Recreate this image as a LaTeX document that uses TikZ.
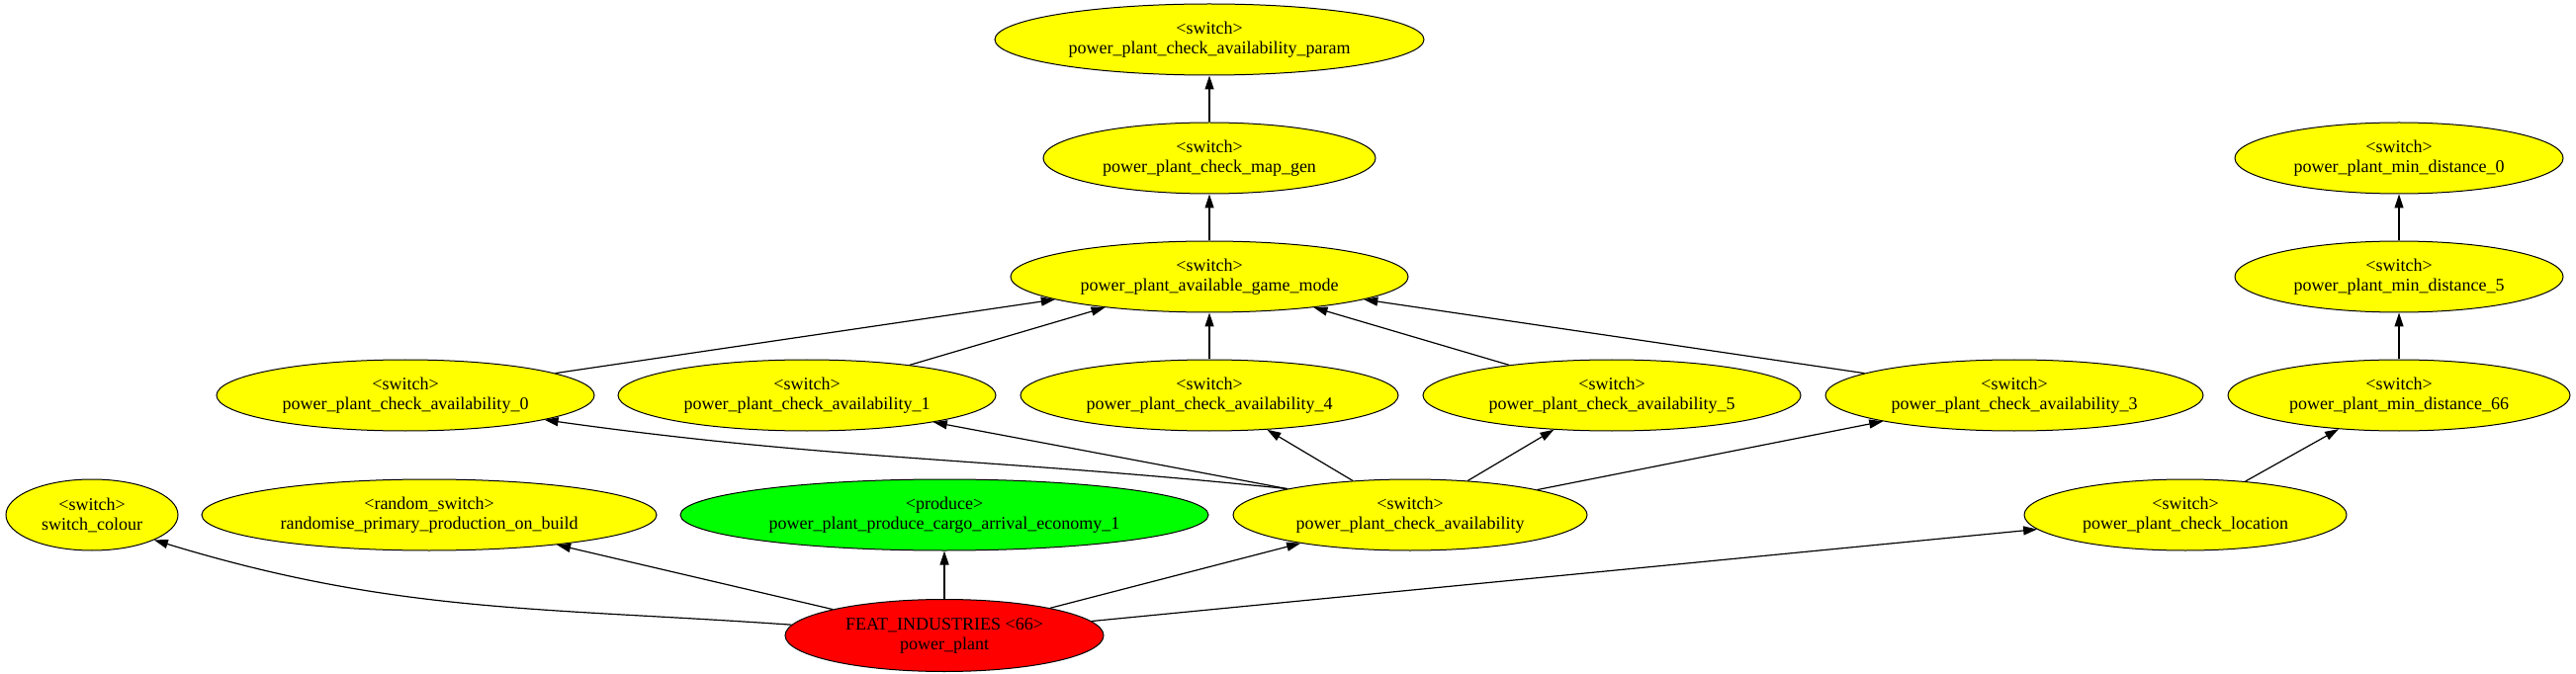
\documentclass[tikz,border=0pt]{standalone}
\usepackage{fontspec}
\setmainfont{Liberation Serif}
\usetikzlibrary{shapes.geometric,arrows.meta}
\definecolor{ny}{HTML}{FFFF00}
\definecolor{ng}{HTML}{00FF00}
\definecolor{nr}{HTML}{FF0000}
\tikzset{
  gnode/.style={ellipse, draw=black, line width=1pt, inner sep=0pt, minimum height=72pt,
    align=center, font=\fontsize{18}{20}\selectfont},
  sw/.style={gnode, fill=ny},
  edge/.style={line width=1.2pt, -{Triangle[length=14pt,width=9pt]}},
}
\begin{document}
\begin{tikzpicture}[x=1pt,y=1pt]
\useasboundingbox (0,0) rectangle (2605,681);
\node[sw, minimum width=434pt] (param) at (1223,641) {<switch>\\power\_plant\_check\_availability\_param};
\node[sw, minimum width=336pt] (mapgen) at (1223,521) {<switch>\\power\_plant\_check\_map\_gen};
\node[sw, minimum width=402pt] (game) at (1223,401) {<switch>\\power\_plant\_available\_game\_mode};
\node[sw, minimum width=382pt] (a0) at (410,281) {<switch>\\power\_plant\_check\_availability\_0};
\node[sw, minimum width=382pt] (a1) at (816,281) {<switch>\\power\_plant\_check\_availability\_1};
\node[sw, minimum width=382pt] (a4) at (1223,281) {<switch>\\power\_plant\_check\_availability\_4};
\node[sw, minimum width=382pt] (a5) at (1630,281) {<switch>\\power\_plant\_check\_availability\_5};
\node[sw, minimum width=382pt] (a3) at (2037,281) {<switch>\\power\_plant\_check\_availability\_3};
\node[sw, minimum width=332pt] (md0) at (2426,521) {<switch>\\power\_plant\_min\_distance\_0};
\node[sw, minimum width=332pt] (md5) at (2426,401) {<switch>\\power\_plant\_min\_distance\_5};
\node[sw, minimum width=346pt] (md66) at (2426,281) {<switch>\\power\_plant\_min\_distance\_66};
\node[sw, minimum width=174pt] (sc) at (93,160) {<switch>\\switch\_colour};
\node[sw, minimum width=460pt] (rand) at (434,160) {<random\_switch>\\randomise\_primary\_production\_on\_build};
\node[gnode, fill=ng, minimum width=534pt] (prod) at (955,160) {<produce>\\power\_plant\_produce\_cargo\_arrival\_economy\_1};
\node[sw, minimum width=358pt] (cav) at (1426,160) {<switch>\\power\_plant\_check\_availability};
\node[sw, minimum width=326pt] (cloc) at (2210,160) {<switch>\\power\_plant\_check\_location};
\node[gnode, fill=nr, minimum width=322pt, minimum height=73pt] (feat) at (955,38) {FEAT\_INDUSTRIES <66>\\power\_plant};

\draw[edge] (feat.176) to[out=176,in=-17] (sc.-22);
\draw[edge] (feat) -- (rand);
\draw[edge] (feat) -- (prod);
\draw[edge] (feat) -- (cav);
\draw[edge] (feat) -- (cloc);
\draw[edge] (cav.168) to[out=174,in=-8] (a0.-10);
\draw[edge] (cav.168) -- (a1.-12);
\draw[edge] (cav) -- (a4);
\draw[edge] (cav) -- (a5);
\draw[edge] (cav) -- (a3);
\draw[edge] (a0) -- (game);
\draw[edge] (a1) -- (game);
\draw[edge] (a4) -- (game);
\draw[edge] (a5) -- (game);
\draw[edge] (a3) -- (game);
\draw[edge] (game) -- (mapgen);
\draw[edge] (mapgen) -- (param);
\draw[edge] (cloc) -- (md66);
\draw[edge] (md66) -- (md5);
\draw[edge] (md5) -- (md0);
\end{tikzpicture}
\end{document}
